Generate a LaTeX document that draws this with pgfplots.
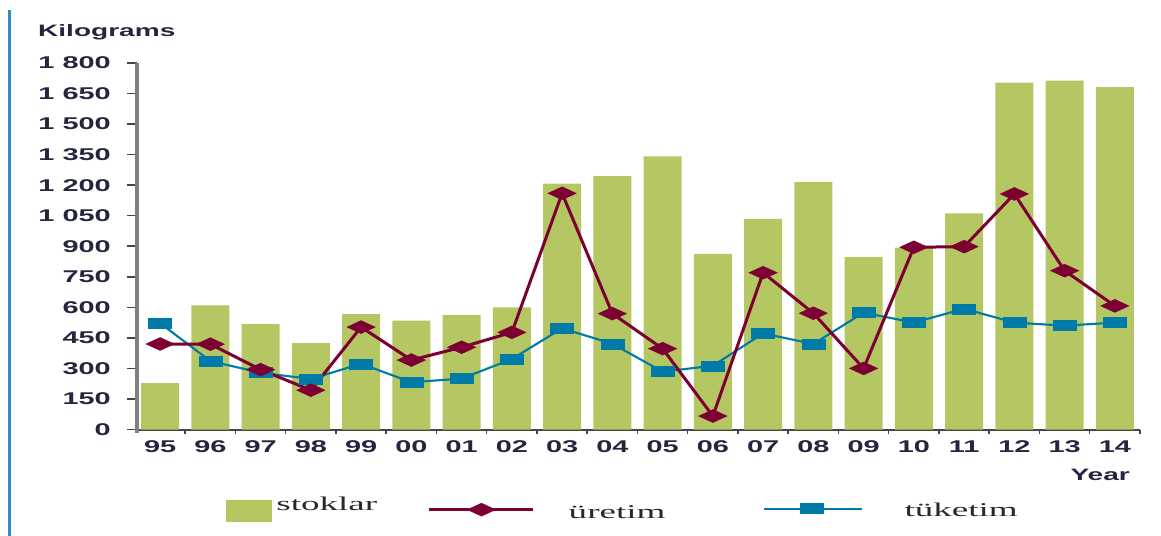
\documentclass[border=0pt]{standalone}
\usepackage{pgfplots}
\pgfplotsset{compat=1.18}
\usepackage{fontspec}
\setmainfont{Liberation Sans}
\newfontfamily\tickfont{Liberation Sans}[FakeStretch=1.7]
\newfontfamily\legfont{Liberation Serif}[FakeStretch=1.9]
\definecolor{stokgreen}{RGB}{180,199,98}
\definecolor{uretim}{RGB}{125,0,50}
\definecolor{tuketim}{RGB}{0,122,166}
\definecolor{tickcol}{RGB}{35,38,62}
\definecolor{legtext}{RGB}{40,40,40}
\definecolor{xaxiscol}{RGB}{70,70,70}
\definecolor{yaxiscol}{RGB}{128,128,128}
\definecolor{decoblue}{RGB}{50,140,190}
\pgfplotsset{
  uretimstyle/.style={color=uretim, line width=3bp, mark=diamond*, mark size=6.5bp, mark options={xscale=2.9, line width=0.4bp, solid}},
  tuketimstyle/.style={color=tuketim, line width=2.1bp, mark=square*, mark size=5bp, mark options={xscale=2.3, line width=0.4bp, solid}},
  stokleg/.style={legend image code/.code={\fill[stokgreen] (0bp,-11bp) rectangle (45bp,10bp); \path (50bp,0bp);}},
  uretimleg/.style={legend image code/.code={\path (-51bp,0bp); \draw[mark repeat=2, mark phase=2, ##1] plot coordinates {(0bp,1bp) (52bp,1bp) (104bp,1bp)}; \path (138bp,0bp);}},
  tuketimleg/.style={legend image code/.code={\path (-97bp,0bp); \draw[mark repeat=2, mark phase=2, ##1] plot coordinates {(0bp,2bp) (48bp,2bp) (98bp,2bp)}; \path (140bp,0bp);}},
}
\begin{document}
\begin{tikzpicture}
\useasboundingbox (-137bp,-106.5bp) rectangle (1024bp,429.5bp);
\draw[decoblue, line width=3bp] (-127.5bp,419.5bp) -- (-127.5bp,-106.5bp);
\begin{axis}[
  at={(0,0)}, anchor=south west,
  scale only axis, width=1003bp, height=366.5bp,
  xmin=-0.46, xmax=19.5, ymin=0, ymax=1800,
  axis x line*=bottom, axis y line*=left,
  x axis line style={draw=xaxiscol, line width=2bp, -},
  y axis line style={draw=yaxiscol, line width=3.5bp, -, shorten <=-3bp},
  xtick={0,...,19},
  xticklabels={95,96,97,98,99,00,01,02,03,04,05,06,07,08,09,10,11,12,13,14},
  minor xtick={0.5,1.5,...,19.5},
  every major x tick/.append style={draw=none},
  every minor x tick/.append style={draw=xaxiscol, line width=1.5bp},
  every y tick/.append style={draw=xaxiscol, line width=1.5bp},
  minor tick length=4bp,
  major tick length=10bp,
  tick align=outside, tick pos=left,
  ytick={0,150,...,1800},
  yticklabels={0,150,300,450,600,750,900,1 050,1 200,1 350,1 500,1 650,1 800},
  ticklabel style={font=\tickfont\bfseries\fontsize{17bp}{20bp}\selectfont, text=tickcol},
  yticklabel style={inner sep=0pt, xshift=-16bp},
  xticklabel style={inner sep=0pt, anchor=base, yshift=-13bp},
  ylabel={Kilograms},
  ylabel style={rotate=-90, at={(rel axis cs:0,1)}, anchor=base west, xshift=-99bp, yshift=26bp, font=\tickfont\bfseries\fontsize{16.5bp}{19bp}\selectfont, text=tickcol, inner sep=0pt},
  xlabel={Year},
  xlabel style={at={(rel axis cs:1,0)}, anchor=base east, xshift=-10bp, yshift=-50.5bp, font=\tickfont\bfseries\fontsize{16.5bp}{19bp}\selectfont, text=tickcol, inner sep=0pt},
  legend columns=-1,
  legend style={at={(rel axis cs:0,0)}, anchor=west, xshift=89bp, yshift=-80bp, draw=none, fill=none, inner sep=0pt, outer sep=0pt, column sep=0pt,
    nodes={inner sep=0pt, anchor=base west, font=\legfont\fontsize{19.5bp}{22bp}\selectfont, text=legtext}},
]
\addplot[ybar, bar width=38bp, fill=stokgreen, draw=none, forget plot] coordinates {
(0,228) (1,610) (2,517) (3,424) (4,567) (5,535) (6,562) (7,600) (8,1207) (9,1245)
(10,1342) (11,863) (12,1034) (13,1215) (14,846) (15,893) (16,1062) (17,1703) (18,1713) (19,1681)};
\addplot[tuketimstyle, forget plot] coordinates {
(0,522) (1,336) (2,279) (3,248) (4,323) (5,232) (6,250) (7,346) (8,497) (9,421)
(10,284) (11,313) (12,472) (13,420) (14,574) (15,525) (16,593) (17,525) (18,510) (19,525)};
\addplot[uretimstyle, forget plot] coordinates {
(0,420) (1,419) (2,294) (3,193) (4,503) (5,341) (6,404) (7,477) (8,1160) (9,569)
(10,397) (11,66) (12,770) (13,571) (14,300) (15,895) (16,898) (17,1157) (18,780) (19,607)};
\addlegendimage{stokleg}
\addlegendentry{stoklar}
\addlegendimage{uretimstyle, line width=2.5bp, uretimleg}
\addlegendentry{\raisebox{-8bp}{üretim}}
\addlegendimage{tuketimstyle, line width=2.1bp, tuketimleg}
\addlegendentry{\raisebox{-6bp}{tüketim}}
\end{axis}
\end{tikzpicture}
\end{document}
